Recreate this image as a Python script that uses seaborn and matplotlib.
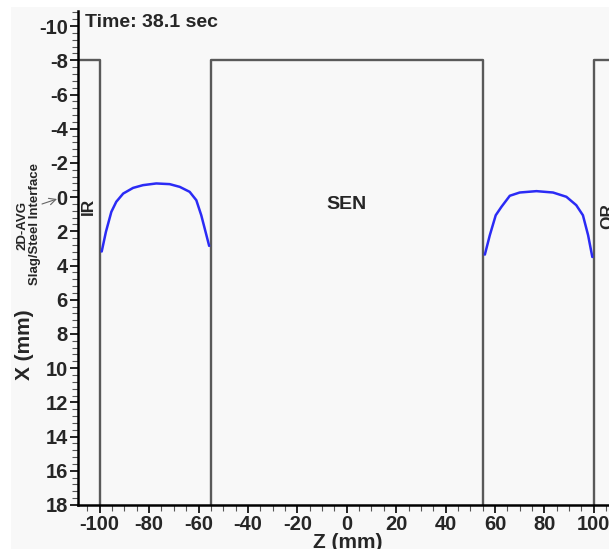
import matplotlib
matplotlib.use("Agg")
import matplotlib.pyplot as plt
from matplotlib.patches import Rectangle
from matplotlib.ticker import MultipleLocator
import seaborn as sns
import pandas as pd

# ---- data ----
left_z = [-99.2, -97.5, -95.3, -93.3, -90.5, -86.5, -82.5, -77.1, -71.7, -67.6, -63.6, -60.9, -58.9, -57.5, -55.7]
left_x = [3.18, 2.03, 0.86, 0.27, -0.21, -0.54, -0.70, -0.80, -0.76, -0.60, -0.31, 0.18, 1.06, 1.84, 2.85]
right_z = [55.9, 57.9, 60.3, 62.6, 66.0, 70.0, 76.8, 83.5, 88.9, 92.9, 95.6, 97.7, 99.4]
right_x = [3.36, 2.23, 1.06, 0.57, -0.08, -0.27, -0.35, -0.27, -0.02, 0.47, 1.06, 2.23, 3.50]

ir_wall_z = [-115, -100, -100]
ir_wall_x = [-8, -8, 18]
sen_wall_z = [-55, -55, 55, 55]
sen_wall_x = [18, -8, -8, 18]
or_wall_z = [100, 100, 120]
or_wall_x = [18, -8, -8]

x_ticks = list(range(-100, 101, 20))
y_ticks = list(range(-10, 19, 2))

sns.set_theme(style="ticks")
plt.rcParams["font.family"] = ["Liberation Sans", "DejaVu Sans"]
plt.rcParams["font.weight"] = "bold"
plt.rcParams["axes.unicode_minus"] = False

BG = "#f8f8f8"
WALL = "#595959"
BLUE = "#2b2bf5"

fig = plt.figure(figsize=(6.09, 5.49), dpi=100, facecolor="white")
fig.patches.append(Rectangle((11 / 609, 0), 1, 1 - 7 / 549, transform=fig.transFigure,
                             facecolor=BG, edgecolor="none", zorder=-10))

ax = fig.add_axes([77.5 / 609, 44 / 549, 541 / 609, 494.3 / 549])
ax.set_facecolor(BG)

for z, x in [(ir_wall_z, ir_wall_x), (sen_wall_z, sen_wall_x), (or_wall_z, or_wall_x)]:
    df = pd.DataFrame({"z": z, "x": x})
    sns.lineplot(data=df, x="z", y="x", sort=False, estimator=None, color=WALL, lw=1.7, ax=ax)

for z, x in [(left_z, left_x), (right_z, right_x)]:
    df = pd.DataFrame({"z": z, "x": x})
    sns.lineplot(data=df, x="z", y="x", sort=False, estimator=None, color=BLUE, lw=1.8, ax=ax)

ax.set_xlim(-109, 110)
ax.set_ylim(18, -10.9)
ax.set_xticks(x_ticks)
ax.set_yticks(y_ticks)
ax.xaxis.set_minor_locator(MultipleLocator(5))
ax.yaxis.set_minor_locator(MultipleLocator(0.4))
ax.tick_params(axis="both", which="major", direction="out", length=6, width=1.2,
               labelsize=14.5, color="black", pad=1)
ax.tick_params(axis="both", which="minor", direction="out", length=4, width=0.8, color="#555555")
for lab in ax.get_xticklabels() + ax.get_yticklabels():
    lab.set_fontweight("bold")

for s in ["top", "right"]:
    ax.spines[s].set_visible(False)
for s in ["left", "bottom"]:
    ax.spines[s].set_color("black")
    ax.spines[s].set_linewidth(1.8)

ax.set_xlabel("Z (mm)", fontsize=15, fontweight="bold")
ax.set_ylabel("X (mm)", fontsize=15, fontweight="bold")
ax.xaxis.set_label_coords(0.5, -0.056)
ax.yaxis.set_label_coords(-0.081, 0.324)

ax.text(-106, -9.95, "Time: 38.1 sec", fontsize=14, fontweight="bold", ha="left", va="baseline")
ax.text(0, 0.41, "SEN", fontsize=14, fontweight="bold", ha="center", va="center")
ax.text(-104.5, 0.55, "IR", fontsize=12.5, fontweight="bold", ha="center", va="center", rotation=90)
ax.text(105.8, 1.1, "OR", fontsize=12.5, fontweight="bold", ha="center", va="center", rotation=90)

fig.text(22 / 609, 1 - 225 / 549, "2D-AVG", fontsize=9.5, fontweight="bold",
         ha="center", va="center", rotation=90)
fig.text(35 / 609, 1 - 224 / 549, "Slag/Steel Interface", fontsize=9.5, fontweight="bold",
         ha="center", va="center", rotation=90)
ax.annotate("", xy=(57 / 609, 1 - 199 / 549), xytext=(42 / 609, 1 - 204 / 549),
            xycoords="figure fraction", textcoords="figure fraction",
            arrowprops=dict(arrowstyle="->", color="#666666", lw=0.8, shrinkA=0, shrinkB=0))

fig.savefig("out.png", dpi=100, facecolor="white")
